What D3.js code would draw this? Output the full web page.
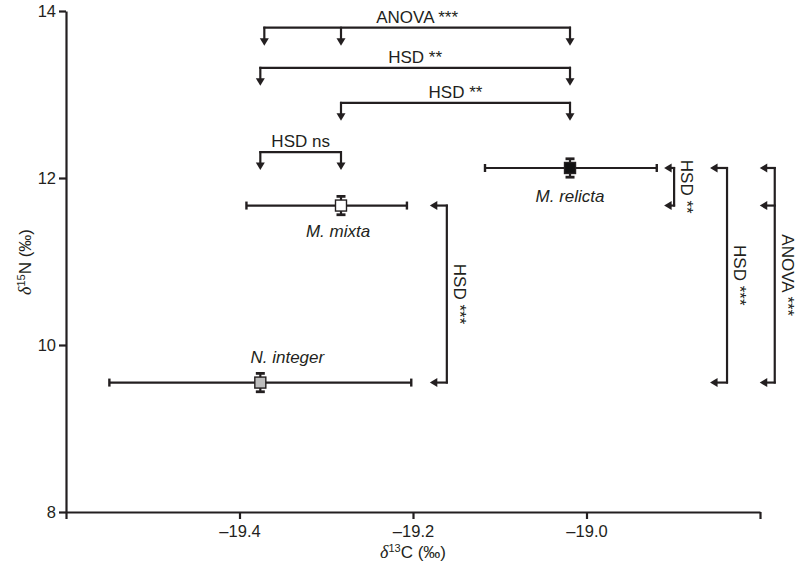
<!DOCTYPE html>
<html><head><meta charset="utf-8">
<script src="https://cdn.jsdelivr.net/npm/d3@7"></script>
<style>
body{margin:0;background:#fff}
svg text{font-family:"Liberation Sans",Arial,sans-serif;fill:#231f20}
</style>
</head><body>
<svg id="c" width="803" height="577"></svg>
<script>
// ---- data ----
const species    = ["N. integer", "M. mixta", "M. relicta"];
const d13C       = [-19.376, -19.283, -19.019];
const d13C_errLo = [0.174, 0.109, 0.098];
const d13C_errHi = [0.174, 0.076, 0.100];
const d15N       = [9.55, 11.67, 12.12];
const d15N_sd    = [0.11, 0.11, 0.11];
const xTicks     = [-19.6, -19.4, -19.2, -19.0, -18.8];
const xTickLabels = ["", "–19.4", "–19.2", "–19.0", ""];
const yTicks     = [8, 10, 12, 14];
const yTickLabels = ["8", "10", "12", "14"];

// significance tests (group indices into species)
const topTests   = ["ANOVA ***", "HSD **", "HSD **", "HSD ns"];
const topGroups  = [[0,1,2], [0,2], [1,2], [0,1]];
const topLevels  = [13.80, 13.32, 12.90, 12.31];   // d15N level of bracket bar
const sideTests  = ["HSD ***", "HSD **", "HSD ***", "ANOVA ***"];
const sideGroups = [[1,0], [2,1], [2,0], [2,1,0]];
const sideLevels = [-19.161, -18.899, -18.838, -18.783]; // d13C level of bracket bar

// ---- style / layout ----
const fills = ["#bdbdbd", "#ffffff", "#111111"];
const labelDx = [27, -3, 0], labelDy = [-20, 31, 34];
const topShift = [4, 0, 0, 0];
const sideStem = [17, 10, 17, 15];
const ink = "#231f20";

const svg = d3.select("#c");
const x = d3.scaleLinear().domain([-19.6, -18.8]).range([66, 760]);
const y = d3.scaleLinear().domain([8, 14]).range([512, 11]);

// axes
const xAxis = svg.append("g").attr("transform", "translate(0,512)")
  .call(d3.axisBottom(x).tickValues(xTicks).tickSize(7).tickSizeOuter(0).tickPadding(6)
        .tickFormat((d,i) => xTickLabels[i]));
const yAxis = svg.append("g").attr("transform", "translate(66,0)")
  .call(d3.axisLeft(y).tickValues(yTicks).tickSize(7).tickSizeOuter(0).tickPadding(3)
        .tickFormat((d,i) => yTickLabels[i]));
[xAxis, yAxis].forEach(a => {
  a.select(".domain").attr("stroke", ink).attr("stroke-width", 2.2);
  a.selectAll(".tick line").attr("stroke", ink).attr("stroke-width", 2.2);
  a.selectAll(".tick text").attr("font-size", 16.5).attr("fill", ink)
    .attr("font-family", "Liberation Sans, Arial, sans-serif");
});

// axis titles
const xt = svg.append("text").attr("x", 413).attr("y", 558).attr("text-anchor", "middle").attr("font-size", 17);
xt.append("tspan").attr("font-style", "italic").attr("font-family", "Liberation Serif, serif").attr("font-size", 18).text("δ");
xt.append("tspan").attr("font-size", 11).attr("dy", -6).text("13");
xt.append("tspan").attr("dy", 6).text("C (‰)");
const yt = svg.append("text").attr("transform", "translate(31,262) rotate(-90)").attr("text-anchor", "middle").attr("font-size", 17);
yt.append("tspan").attr("font-style", "italic").attr("font-family", "Liberation Serif, serif").attr("font-size", 18).text("δ");
yt.append("tspan").attr("font-size", 11).attr("dy", -6).text("15");
yt.append("tspan").attr("dy", 6).text("N (‰)");

// error bars + markers
const g = svg.append("g");
species.forEach((s, i) => {
  const cx = x(d13C[i]), cy = y(d15N[i]);
  const x0 = x(d13C[i] - d13C_errLo[i]), x1 = x(d13C[i] + d13C_errHi[i]);
  const y0 = y(d15N[i] - d15N_sd[i]), y1 = y(d15N[i] + d15N_sd[i]);
  g.append("line").attr("x1", x0).attr("x2", x1).attr("y1", cy).attr("y2", cy).attr("stroke", ink).attr("stroke-width", 2.2);
  [x0, x1].forEach(xx => g.append("line").attr("x1", xx).attr("x2", xx).attr("y1", cy - 4).attr("y2", cy + 4).attr("stroke", ink).attr("stroke-width", 2.4));
  g.append("line").attr("x1", cx).attr("x2", cx).attr("y1", y0).attr("y2", y1).attr("stroke", ink).attr("stroke-width", 2.2);
  [y0, y1].forEach(yy => g.append("line").attr("x1", cx - 4.5).attr("x2", cx + 4.5).attr("y1", yy).attr("y2", yy).attr("stroke", ink).attr("stroke-width", 2.8));
  g.append("rect").attr("x", cx - 5.5).attr("y", cy - 5.5).attr("width", 11).attr("height", 11)
    .attr("fill", fills[i]).attr("stroke", ink).attr("stroke-width", 1.4);
  g.append("text").attr("x", cx + labelDx[i]).attr("y", cy + labelDy[i]).attr("text-anchor", "middle")
    .attr("font-size", 17).attr("font-style", "italic").text(s);
});

// arrowhead helpers
function arrowDown(px, py) { // tip at (px,py)
  return `M${px-4.5},${py-7.5}L${px+4.5},${py-7.5}L${px},${py}Z`;
}
function arrowLeft(px, py) {
  return `M${px+7.5},${py-4.5}L${px+7.5},${py+4.5}L${px},${py}Z`;
}
const b = svg.append("g");
// top brackets
topTests.forEach((t, k) => {
  const ly = y(topLevels[k]);
  const xs = topGroups[k].map((i, j) => x(d13C[i]) + (j === 0 ? topShift[k] : 0));
  const xmin = d3.min(xs), xmax = d3.max(xs);
  b.append("line").attr("x1", xmin - 1).attr("x2", xmax + 1).attr("y1", ly).attr("y2", ly).attr("stroke", ink).attr("stroke-width", 2.2);
  xs.forEach(xx => {
    b.append("line").attr("x1", xx).attr("x2", xx).attr("y1", ly - 1).attr("y2", ly + 12).attr("stroke", ink).attr("stroke-width", 2.2);
    b.append("path").attr("d", arrowDown(xx, ly + 18)).attr("fill", ink);
  });
  b.append("text").attr("x", (xmin + xmax) / 2).attr("y", ly - 5).attr("text-anchor", "middle").attr("font-size", 17).text(t);
});
// side brackets
sideTests.forEach((t, k) => {
  const lx = x(sideLevels[k]);
  const ys = sideGroups[k].map(i => y(d15N[i]));
  const ymin = d3.min(ys), ymax = d3.max(ys);
  const st = sideStem[k];
  b.append("line").attr("x1", lx).attr("x2", lx).attr("y1", ymin - 1).attr("y2", ymax + 1).attr("stroke", ink).attr("stroke-width", 2.2);
  ys.forEach(yy => {
    b.append("line").attr("x1", lx + 1).attr("x2", lx - st + 6).attr("y1", yy).attr("y2", yy).attr("stroke", ink).attr("stroke-width", 2.2);
    b.append("path").attr("d", arrowLeft(lx - st, yy)).attr("fill", ink);
  });
  b.append("text").attr("transform", `translate(${lx + 7},${(ymin + ymax) / 2}) rotate(90)`)
    .attr("text-anchor", "middle").attr("font-size", 17).text(t);
});
</script>
</body></html>
